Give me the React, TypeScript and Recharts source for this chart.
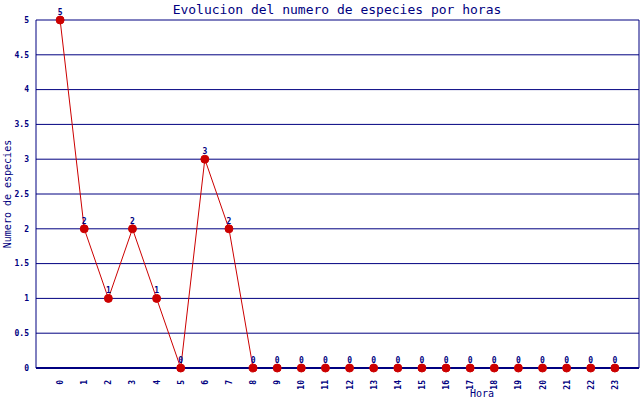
import React from "react"
import { LineChart, Line, XAxis, YAxis, CartesianGrid, ReferenceLine, LabelList } from "recharts"

const horas = [0, 1, 2, 3, 4, 5, 6, 7, 8, 9, 10, 11, 12, 13, 14, 15, 16, 17, 18, 19, 20, 21, 22, 23]
const especies = [5, 2, 1, 2, 1, 0, 3, 2, 0, 0, 0, 0, 0, 0, 0, 0, 0, 0, 0, 0, 0, 0, 0, 0]
const yTicks = [0, 0.5, 1, 1.5, 2, 2.5, 3, 3.5, 4, 4.5, 5]

const data = horas.map((h, i) => ({ hora: h, especies: especies[i] }))

const NAVY = "#000080"
const RED = "#cc0000"
const MONO = "'DejaVu Sans Mono', monospace"

const XTick = ({ x, y, payload }: any) => (
  <text
    x={x}
    y={y}
    transform={`rotate(-90 ${x} ${y})`}
    textAnchor="end"
    dy={3}
    dx={-4}
    fill={NAVY}
    fontSize={8}
    fontWeight="bold"
    fontFamily={MONO}
  >
    {payload.value}
  </text>
)

export default function App() {
  return (
    <div style={{ position: "fixed", left: 0, top: 0, width: 640, height: 400, background: "#fff" }}>
      <LineChart width={640} height={400} data={data} margin={{ top: 20, right: 1, bottom: 0, left: 0 }}>
        <text x={337} y={14} textAnchor="middle" fill={NAVY} fontSize={13} fontFamily={MONO}>
          Evolucion del numero de especies por horas
        </text>
        <CartesianGrid vertical={false} stroke={NAVY} strokeOpacity={1} />
        <XAxis
          dataKey="hora"
          type="number"
          height={32}
          domain={[-1, 24]}
          ticks={horas}
          interval={0}
          tick={<XTick />}
          tickLine={false}
          axisLine={{ stroke: NAVY, strokeWidth: 2 }}
          label={{
            content: () => (
              <text x={482} y={397} textAnchor="middle" fill={NAVY} fontSize={10} fontFamily={MONO}>
                Hora
              </text>
            ),
          }}
        />
        <YAxis
          width={36}
          domain={[0, 5]}
          ticks={yTicks}
          interval={0}
          tickLine={false}
          axisLine={{ stroke: NAVY, strokeWidth: 1 }}
          tick={{ fill: NAVY, fontSize: 8, fontWeight: "bold", fontFamily: MONO, dx: 1 }}
          label={{
            content: () => (
              <text
                x={11}
                y={194}
                transform="rotate(-90 11 194)"
                textAnchor="middle"
                fill={NAVY}
                fontSize={10}
                fontFamily={MONO}
              >
                Numero de especies
              </text>
            ),
          }}
        />
        <ReferenceLine x={24} stroke={NAVY} strokeWidth={1} />
        <Line
          dataKey="especies"
          type="linear"
          stroke={RED}
          strokeWidth={1}
          dot={{ r: 4, fill: RED, stroke: RED, strokeWidth: 1 }}
          isAnimationActive={false}
        >
          <LabelList
            dataKey="especies"
            position="top"
            offset={5}
            fill={NAVY}
            fontSize={8}
            fontWeight="bold"
            fontFamily={MONO}
          />
        </Line>
      </LineChart>
    </div>
  )
}
